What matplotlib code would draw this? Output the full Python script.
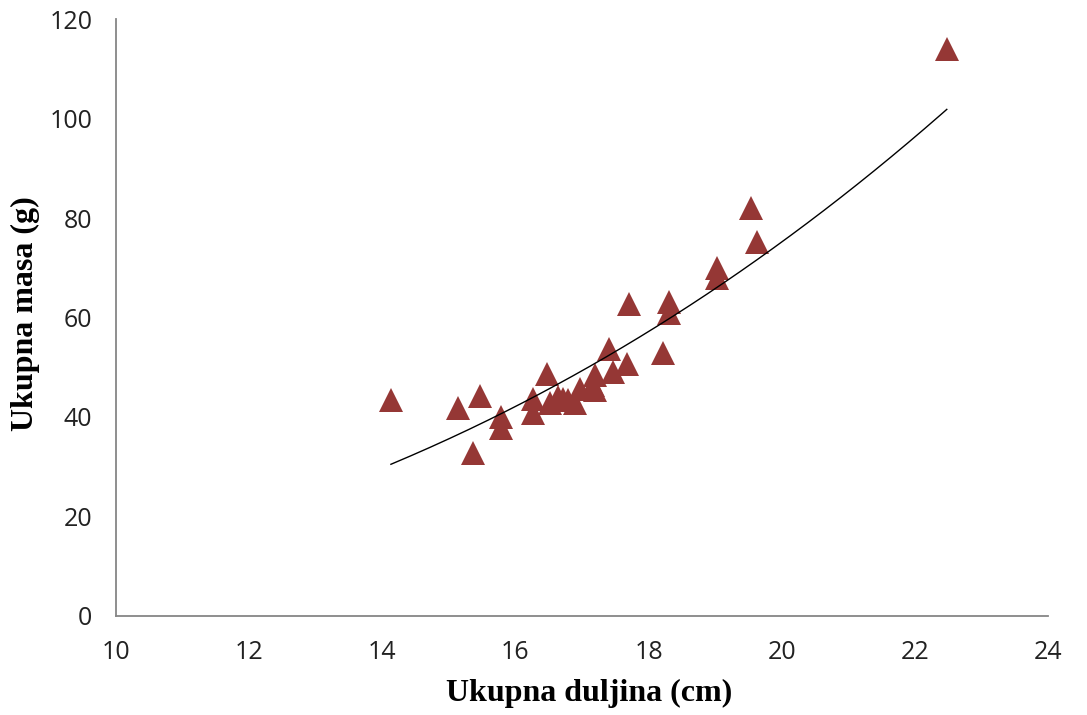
import matplotlib.pyplot as plt
import numpy as np

# total length (cm) and total mass (g)
duljina = [14.13, 15.14, 15.47, 15.36, 15.78, 15.78, 16.26, 16.26, 16.47,
           16.52, 16.64, 16.71, 16.79, 16.90, 16.97, 17.17, 17.20, 17.20,
           17.40, 17.47, 17.68, 17.71, 18.22, 18.31, 18.31, 19.03, 19.03,
           19.54, 19.63, 22.48]
masa = [43.4, 41.8, 44.2, 32.8, 40.0, 37.8, 43.6, 40.8, 48.6,
        42.8, 44.0, 43.6, 43.4, 42.8, 45.6, 46.4, 45.4, 48.4,
        53.6, 49.0, 50.6, 62.7, 52.9, 63.1, 60.9, 70.0, 67.9,
        82.0, 75.2, 114.0]

x_ticks = [10, 12, 14, 16, 18, 20, 22, 24]
y_ticks = [0, 20, 40, 60, 80, 100, 120]

fig = plt.figure(figsize=(10.87, 7.15), dpi=100)
ax = fig.add_axes([0.1067, 0.1385, 0.8574, 0.8349])

ax.plot(duljina, masa, linestyle='none', marker='^', markersize=17,
        color='#953735', markeredgewidth=0)

# power trend line (like Excel), fitted in log-log space
x = np.array(duljina)
b, log_a = np.polyfit(np.log(x), np.log(masa), 1)
xs = np.linspace(x.min(), x.max(), 200)
ax.plot(xs, np.exp(log_a) * xs ** b, color='black', linewidth=1)

ax.set_xlim(10, 24)
ax.set_ylim(0, 120)
ax.set_xticks(x_ticks)
ax.set_yticks(y_ticks)
ax.tick_params(length=0, labelsize=18)
ax.tick_params(axis='x', pad=17)
ax.tick_params(axis='y', pad=17)
for lbl in ax.get_xticklabels() + ax.get_yticklabels():
    lbl.set_fontfamily('Open Sans')
    lbl.set_color('#222222')

for side in ['top', 'right']:
    ax.spines[side].set_visible(False)
for side in ['left', 'bottom']:
    ax.spines[side].set_color('#868686')
    ax.spines[side].set_linewidth(1.3)

ax.set_xlabel('Ukupna duljina (cm)', fontfamily='Liberation Serif',
              fontweight='bold', fontsize=23)
ax.set_ylabel('Ukupna masa (g)', fontfamily='Liberation Serif',
              fontweight='bold', fontsize=23)
ax.xaxis.set_label_coords(0.5075, -0.105)
ax.yaxis.set_label_coords(-0.081, 0.507)

fig.savefig('out.png', dpi=100)
